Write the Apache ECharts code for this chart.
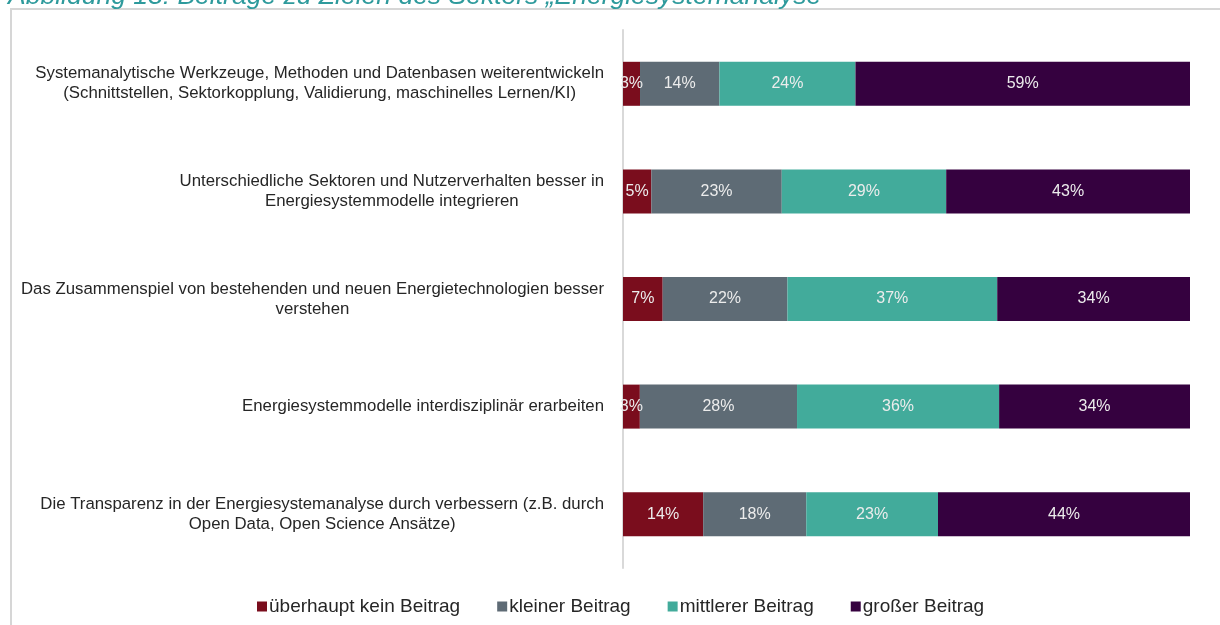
<!DOCTYPE html>
<html><head><meta charset="utf-8">
<script src="https://cdn.jsdelivr.net/npm/echarts@6/dist/echarts.min.js"></script>
<style>html,body{margin:0;padding:0;background:#fff}#c{width:1220px;height:625px}</style>
</head><body><div id="c"></div>
<script>
const categories = [
  "Systemanalytische Werkzeuge, Methoden und Datenbasen weiterentwickeln\n(Schnittstellen, Sektorkopplung, Validierung, maschinelles Lernen/KI)",
  "Unterschiedliche Sektoren und Nutzerverhalten besser in\nEnergiesystemmodelle integrieren",
  "Das Zusammenspiel von bestehenden und neuen Energietechnologien besser\nverstehen",
  "Energiesystemmodelle interdisziplinär erarbeiten",
  "Die Transparenz in der Energiesystemanalyse durch verbessern (z.B. durch\nOpen Data, Open Science Ansätze)"
];
const seriesNames = ["überhaupt kein Beitrag", "kleiner Beitrag", "mittlerer Beitrag", "großer Beitrag"];
const keinBeitrag = [3, 5, 7, 3, 14];
const kleinerBeitrag = [14, 23, 22, 28, 18];
const mittlererBeitrag = [24, 29, 37, 36, 23];
const grosserBeitrag = [59, 43, 34, 34, 44];
const titleText = "Abbildung 13: Beiträge zu Zielen des Sektors „Energiesystemanalyse“";

const colors = ["#7a0d1d", "#5e6b75", "#42ab9b", "#35013f"];
const raw = [keinBeitrag, kleinerBeitrag, mittlererBeitrag, grosserBeitrag];
const totals = categories.map((_, i) => raw.reduce((s, a) => s + a[i], 0));

const chart = echarts.init(document.getElementById('c'), null, {renderer: 'canvas'});
const FONT = "'Liberation Sans', Arial, sans-serif";

chart.setOption({
  animation: false,
  textStyle: {fontFamily: FONT},
  graphic: [
    {type: 'rect', shape: {x: 11, y: 9, width: 1400, height: 800}, style: {fill: 'none', stroke: '#d6d6d6', lineWidth: 2}, z: 0, silent: true},
    {type: 'text', x: 8, y: 10, style: {text: titleText, fill: '#2e9a9c', font: 'italic 26.5px ' + FONT, verticalAlign: 'bottom', align: 'left'}, z: 5, silent: true}
  ],
  grid: {left: 623, right: 30, top: 30, bottom: 57, containLabel: false},
  legend: {
    bottom: 4, left: 252,
    itemWidth: 10, itemHeight: 10, itemGap: 37,
    icon: 'rect',
    textStyle: {fontSize: 19, color: '#262626', fontFamily: FONT, padding: [0, 0, 0, -3]},
    data: seriesNames
  },
  xAxis: {type: 'value', min: 0, max: 100, show: false},
  yAxis: {
    type: 'category', inverse: true, data: categories,
    axisLine: {show: true, lineStyle: {color: '#d9d9d9', width: 2}},
    axisTick: {show: false},
    axisLabel: {
      margin: 19,
      formatter: v => v.split('\n').map(l => '{c|' + l + '}').join('\n'),
      rich: {c: {align: 'center', fontSize: 16.8, lineHeight: 20, color: '#262626', fontFamily: FONT}}
    }
  },
  series: raw.map((arr, k) => ({
    name: seriesNames[k], type: 'bar', stack: 'total',
    barWidth: 44,
    itemStyle: {color: colors[k]},
    label: {
      show: true, position: 'inside', color: '#ececec', fontSize: 16, fontFamily: FONT,
      padding: [3, 0, 0, 0],
      formatter: p => arr[p.dataIndex] + '%'
    },
    data: arr.map((v, i) => v / totals[i] * 100)
  }))
});
</script></body></html>
